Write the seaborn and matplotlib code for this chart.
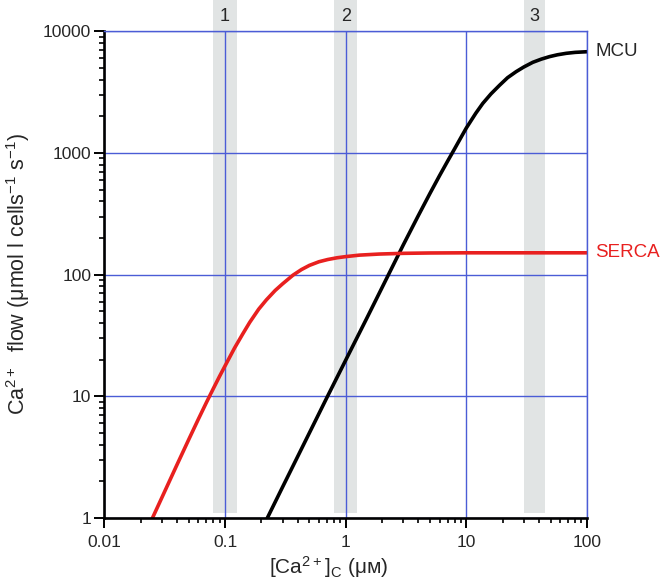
import matplotlib

matplotlib.use("Agg")
import matplotlib.pyplot as plt
import seaborn as sns
from matplotlib.ticker import LogLocator, NullFormatter

# MCU uptake (cytosolic Ca2+ in uM, flow)
mcu_ca = [0.224, 0.3, 0.5, 0.7, 1, 1.5, 2, 3, 4, 5, 6, 7, 8, 9, 10, 12, 13.7,
          16, 18.9, 22, 25.9, 30, 35.6, 42, 49, 57, 67.4, 80, 100]
mcu_flow = [1.0, 1.8, 5.0, 9.8, 19.8, 44, 78, 175, 305, 465, 650, 855, 1080,
            1330, 1600, 2120, 2550, 3050, 3600, 4150, 4650, 5080, 5550, 5900,
            6180, 6400, 6580, 6700, 6780]

# SERCA uptake
serca_ca = [0.025, 0.03, 0.04, 0.05, 0.06, 0.07, 0.08, 0.09, 0.1, 0.12, 0.14,
            0.16, 0.19, 0.22, 0.26, 0.3, 0.366, 0.43, 0.5, 0.6, 0.71, 0.85, 1,
            1.3, 1.9, 3, 5, 10, 30, 100]
serca_flow = [1.0, 1.48, 2.75, 4.42, 6.48, 8.89, 11.6, 14.6, 17.8, 25, 32.5,
              40.5, 52, 62, 74, 84, 99, 110, 119, 127.5, 133, 137.5, 140.5,
              144.5, 147.5, 149.5, 150.5, 151, 151, 151]

# shaded concentration ranges 1-3
band_lo = [0.08, 0.8, 30]
band_hi = [0.125, 1.25, 45]
band_mid = [0.1, 1, 36.5]
band_labels = ["1", "2", "3"]

xticks = [0.01, 0.1, 1, 10, 100]
xtick_labels = ["0.01", "0.1", "1", "10", "100"]
yticks = [1, 10, 100, 1000, 10000]
ytick_labels = ["1", "10", "100", "1000", "10000"]

RED = "#e8201f"
BLUE = "#4b5cd6"
GREY = "#e1e4e4"

sns.set_style("ticks")
plt.rcParams["font.family"] = ["Liberation Sans", "DejaVu Sans"]
plt.rcParams["mathtext.default"] = "regular"

fig = plt.figure(figsize=(6.63, 5.82), dpi=100)
ax = fig.add_axes([0.1576, 0.110, 0.7276, 0.8364])
ax.set_xscale("log")
ax.set_yscale("log")

for lo, hi, mid, lab in zip(band_lo, band_hi, band_mid, band_labels):
    ax.axvspan(lo, hi, ymin=0.01, ymax=1.07, color=GREY, lw=0,
               zorder=0.2, clip_on=False)
    ax.text(mid, 1.031, lab, transform=ax.get_xaxis_transform(),
            ha="center", va="center", fontsize=13)

sns.lineplot(x=mcu_ca, y=mcu_flow, color="black", lw=2.6, ax=ax)
sns.lineplot(x=serca_ca, y=serca_flow, color=RED, lw=2.6, ax=ax)

ax.set_xlim(0.01, 100)
ax.set_ylim(1, 10000)
ax.set_xticks(xticks, labels=xtick_labels)
ax.set_yticks(yticks, labels=ytick_labels)
ax.xaxis.set_minor_locator(LogLocator(base=10, subs=range(2, 10)))
ax.yaxis.set_minor_locator(LogLocator(base=10, subs=range(2, 10)))
ax.xaxis.set_minor_formatter(NullFormatter())
ax.yaxis.set_minor_formatter(NullFormatter())

ax.grid(True, which="major", color=BLUE, lw=1.0)
for side in ["left", "bottom"]:
    ax.spines[side].set_color("black")
    ax.spines[side].set_linewidth(1.9)
for side in ["top", "right"]:
    ax.spines[side].set_color(BLUE)
    ax.spines[side].set_linewidth(1.0)

ax.tick_params(which="major", direction="out", length=7, width=1.4,
               color="black", labelsize=12.5,
               bottom=True, left=True, top=False, right=False)
ax.tick_params(which="minor", direction="out", length=3.6, width=1.2,
               color="black", bottom=True, left=True, top=False, right=False)
ax.tick_params(axis="x", which="major", pad=5)
ax.tick_params(axis="y", which="major", pad=2.5)

ax.annotate("MCU", xy=(mcu_ca[-1], mcu_flow[-1]), xytext=(6, 0),
            textcoords="offset points", va="center", fontsize=13.5)
ax.annotate("SERCA", xy=(serca_ca[-1], serca_flow[-1]), xytext=(6, 0),
            textcoords="offset points", va="center", fontsize=13.5, color=RED)

ax.set_ylabel("Ca$^{2+}$  flow (μmol l cells$^{-1}$ s$^{-1}$)", fontsize=15.5)
ax.yaxis.set_label_coords(-0.15, 0.5)
ax.set_xlabel("[Ca$^{2+}$]$_{C}$ (μᴍ)", fontsize=15, va="bottom")
ax.xaxis.set_label_coords(0.465, -0.127)

fig.savefig("out.png", dpi=100)
